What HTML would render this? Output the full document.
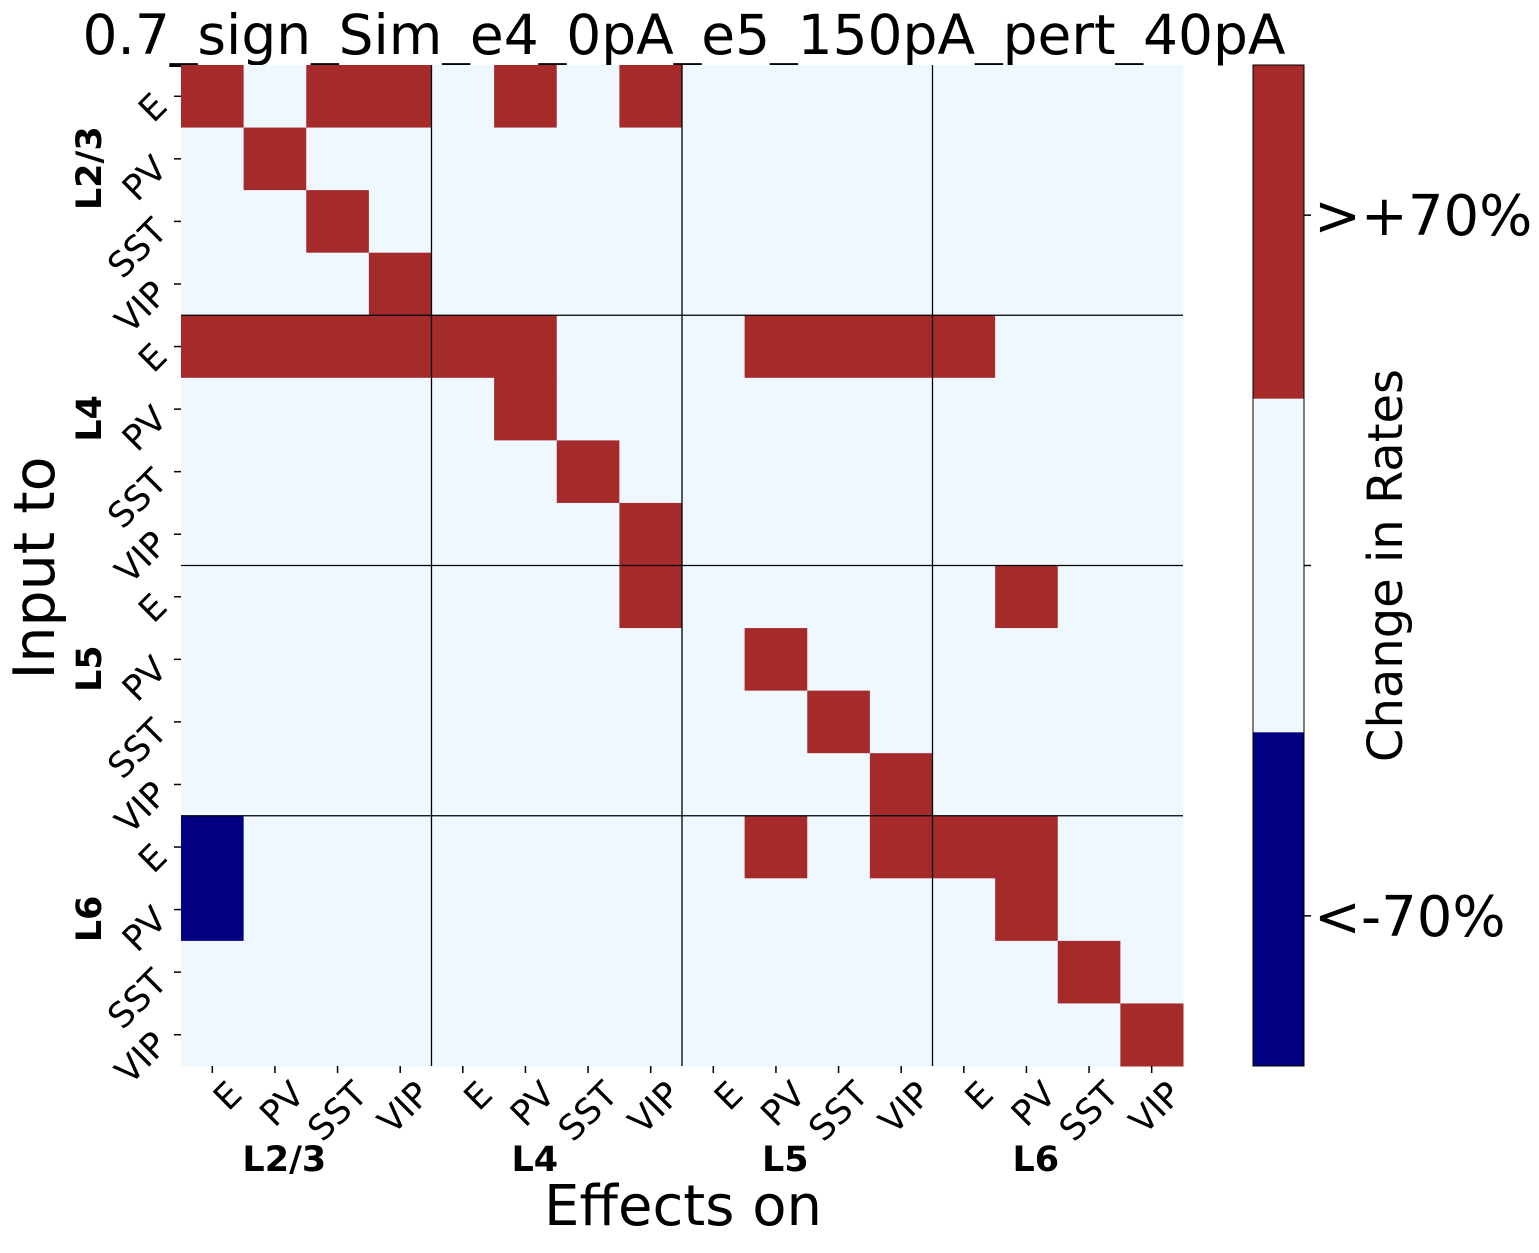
<!DOCTYPE html>
<html><head><meta charset="utf-8"><style>
body{margin:0;background:#fff;}
svg text{font-family:"DejaVu Sans","Liberation Sans",sans-serif;}
</style></head><body>
<svg id="chart" width="1539" height="1248" viewBox="0 0 1539 1248" xmlns="http://www.w3.org/2000/svg">
<text x="684" y="54" font-size="55" text-anchor="middle">0.7_sign_Sim_e4_0pA_e5_150pA_pert_40pA</text>
<g id="cells"></g><g id="grid"></g><g id="ticks"></g>
<text x="683" y="1225" font-size="56" text-anchor="middle">Effects on</text>
<text transform="translate(54,568) rotate(-90)" font-size="57" text-anchor="middle">Input to</text>
<g id="cbar"></g>
</svg>
<script>
const layers=["L2/3","L4","L5","L6"];
const cellTypes=["E","PV","SST","VIP"];
const matrix=[
[1,0,1,1,0,1,0,1,0,0,0,0,0,0,0,0],
[0,1,0,0,0,0,0,0,0,0,0,0,0,0,0,0],
[0,0,1,0,0,0,0,0,0,0,0,0,0,0,0,0],
[0,0,0,1,0,0,0,0,0,0,0,0,0,0,0,0],
[1,1,1,1,1,1,0,0,0,1,1,1,1,0,0,0],
[0,0,0,0,0,1,0,0,0,0,0,0,0,0,0,0],
[0,0,0,0,0,0,1,0,0,0,0,0,0,0,0,0],
[0,0,0,0,0,0,0,1,0,0,0,0,0,0,0,0],
[0,0,0,0,0,0,0,1,0,0,0,0,0,1,0,0],
[0,0,0,0,0,0,0,0,0,1,0,0,0,0,0,0],
[0,0,0,0,0,0,0,0,0,0,1,0,0,0,0,0],
[0,0,0,0,0,0,0,0,0,0,0,1,0,0,0,0],
[-1,0,0,0,0,0,0,0,0,1,0,1,1,1,0,0],
[-1,0,0,0,0,0,0,0,0,0,0,0,0,1,0,0],
[0,0,0,0,0,0,0,0,0,0,0,0,0,0,1,0],
[0,0,0,0,0,0,0,0,0,0,0,0,0,0,0,1]];
const cbLabels=[">+70%","<-70%"];
const NS="http://www.w3.org/2000/svg";
const X0=181,Y0=65,W=1002,H=1001,n=16,cw=W/n,ch=H/n;
const xs=i=>X0+i*cw, ys=j=>Y0+j*ch;
const col=v=>v>0?"#a52a2a":(v<0?"#000080":"#f0f8ff");
function mk(t,a,p){const e=document.createElementNS(NS,t);for(const k in a)e.setAttribute(k,a[k]);(p||document.getElementById('chart')).appendChild(e);return e;}
const cg=document.getElementById('cells');
matrix.forEach((row,j)=>row.forEach((v,i)=>{
 const r=mk('rect',{x:xs(i),y:ys(j),width:cw+0.5,height:ch+0.5,fill:col(v)},cg);
 
 
}));
const gg=document.getElementById('grid');
for(let k=1;k<4;k++){
 const l1=mk('line',{x1:xs(k*4),x2:xs(k*4),y1:Y0,y2:Y0+H,stroke:"#000","stroke-width":1.3},gg);
 
 
 const l2=mk('line',{y1:ys(k*4),y2:ys(k*4),x1:X0,x2:X0+W,stroke:"#000","stroke-width":1.3},gg);
 
 
}
const tg=document.getElementById('ticks');
for(let i=0;i<n;i++){
 const lab=cellTypes[i%4];
 const cx=xs(i)+cw/2, cy=ys(i)+ch/2;
 mk('line',{x1:cx,x2:cx,y1:Y0+H,y2:Y0+H+7,stroke:"#000","stroke-width":1.5},tg);
 const t=mk('text',{transform:`translate(${cx+14},${Y0+H+13}) rotate(-45)`,"font-size":35,"text-anchor":"end","dominant-baseline":"hanging"},tg);
 t.textContent=lab;
 
 
 mk('line',{x1:X0-7,x2:X0,y1:cy,y2:cy,stroke:"#000","stroke-width":1.5},tg);
 const u=mk('text',{transform:`translate(${X0-12},${cy+12}) rotate(-45)`,"font-size":35,"text-anchor":"end"},tg);
 u.textContent=lab;
 
 
}
layers.forEach((L,k)=>{
 const gx=xs(k*4)+cw*1.65;
 const a=mk('text',{x:gx,y:1171,"font-size":35,"font-weight":"bold","text-anchor":"middle"},tg);
 a.textContent=L;
 
 
 const gy=ys(k*4)+ch*1.65;
 const b=mk('text',{transform:`translate(101,${gy}) rotate(-90)`,"font-size":35,"font-weight":"bold","text-anchor":"middle"},tg);
 b.textContent=L;
 
 
});
const cb=document.getElementById('cbar');
const CX=1253,CW=51,CY=65,CH=1001;
[["#a52a2a",0],["#f0f8ff",1],["#000080",2]].forEach(([c,k])=>{
 const r=mk('rect',{x:CX,y:CY+k*CH/3,width:CW,height:CH/3+0.5,fill:c},cb);
 
 
});
mk('rect',{x:CX,y:CY,width:CW,height:CH,fill:"none",stroke:"#000","stroke-width":1},cb);
[[CY+CH*0.15,cbLabels[0]],[CY+CH*0.5,""],[CY+CH*0.85,cbLabels[1]]].forEach(([y,l])=>{
 mk('line',{x1:CX+CW,x2:CX+CW+7,y1:y,y2:y,stroke:"#000","stroke-width":1.5},cb);
 if(l){const t=mk('text',{x:CX+CW+10,y:y+20,"font-size":56},cb);t.textContent=l;
 
 }
});
const ct=mk('text',{transform:`translate(1402,${CY+CH/2}) rotate(-90)`,"font-size":48,"text-anchor":"middle"},cb);
ct.textContent="Change in Rates";


</script>
</body></html>
